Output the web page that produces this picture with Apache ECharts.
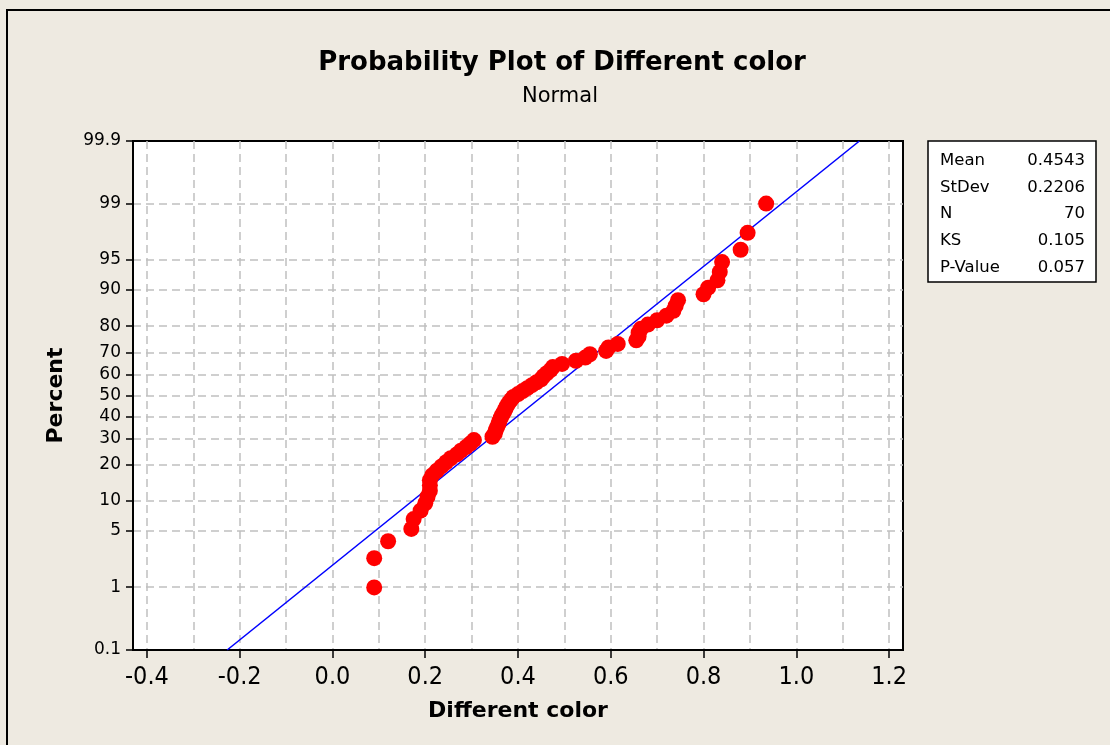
<!DOCTYPE html>
<html>
<head>
<meta charset="utf-8">
<title>Probability Plot of Different color</title>
<script src="https://cdn.jsdelivr.net/npm/echarts@6/dist/echarts.min.js"></script>
<style>
  html, body { margin: 0; padding: 0; background: #EEEAE1; }
  #main { width: 1110px; height: 745px; }
</style>
</head>
<body>
<div id="main"></div>
<script>
// sample values (sorted)
const colorDiff = [
  0.09, 0.09, 0.12, 0.17, 0.175, 0.19, 0.20, 0.205, 0.21, 0.21,
  0.21, 0.215, 0.225, 0.235, 0.245, 0.255, 0.268, 0.277, 0.288, 0.297,
  0.305, 0.345, 0.35, 0.352, 0.355, 0.358, 0.36, 0.363, 0.366, 0.37,
  0.373, 0.376, 0.38, 0.385, 0.39, 0.40, 0.41, 0.42, 0.43, 0.44,
  0.45, 0.455, 0.462, 0.47, 0.475, 0.495, 0.525, 0.545, 0.555, 0.59,
  0.595, 0.615, 0.655, 0.66, 0.66, 0.665, 0.68, 0.70, 0.72, 0.735,
  0.74, 0.745, 0.80, 0.81, 0.83, 0.835, 0.84, 0.88, 0.895, 0.935
];
// percent at which each point is drawn
const percentRank = [
  0.99, 2.41, 3.84, 5.26, 6.68, 8.10, 9.52, 10.94, 12.36, 13.78,
  15.20, 16.62, 18.04, 19.46, 20.88, 22.30, 23.72, 25.14, 26.56, 27.98,
  29.40, 30.82, 32.24, 33.66, 35.09, 36.51, 37.93, 39.35, 40.77, 42.19,
  43.61, 45.03, 46.45, 47.87, 49.29, 50.71, 52.13, 53.55, 54.97, 56.39,
  57.81, 59.23, 60.65, 62.07, 63.49, 64.91, 66.34, 67.76, 69.18, 70.60,
  72.02, 73.44, 74.86, 76.28, 77.70, 79.12, 80.54, 81.96, 83.38, 84.80,
  86.22, 87.64, 89.06, 90.48, 91.90, 93.32, 94.74, 96.16, 97.59, 99.01
];
// fitted normal line end points
const fitX = [-0.227, 1.136];
const fitPercent = [0.1, 99.9];

const xLabelValues = [-0.4, -0.2, 0, 0.2, 0.4, 0.6, 0.8, 1.0, 1.2];
const xGridValues = [-0.4, -0.3, -0.2, -0.1, 0, 0.1, 0.2, 0.3, 0.4, 0.5, 0.6, 0.7, 0.8, 0.9, 1.0, 1.1, 1.2];
const yTickPercents = [0.1, 1, 5, 10, 20, 30, 40, 50, 60, 70, 80, 90, 95, 99, 99.9];

const statNames = ['Mean', 'StDev', 'N', 'KS', 'P-Value'];
const statValues = ['0.4543', '0.2206', '70', '0.105', '0.057'];

// inverse normal cdf (Acklam) for the probability scale
function probit(p) {
  const a = [-3.969683028665376e+01, 2.209460984245205e+02, -2.759285104469687e+02, 1.383577518672690e+02, -3.066479806614716e+01, 2.506628277459239e+00];
  const b = [-5.447609879822406e+01, 1.615858368580409e+02, -1.556989798598866e+02, 6.680131188771972e+01, -1.328068155288572e+01];
  const c = [-7.784894002430293e-03, -3.223964580411365e-01, -2.400758277161838e+00, -2.549732539343734e+00, 4.374664141464968e+00, 2.938163982698783e+00];
  const d = [7.784695709041462e-03, 3.224671290700398e-01, 2.445134137142996e+00, 3.754408661907416e+00];
  const pl = 0.02425;
  let q, r;
  if (p < pl) {
    q = Math.sqrt(-2 * Math.log(p));
    return (((((c[0]*q+c[1])*q+c[2])*q+c[3])*q+c[4])*q+c[5]) / ((((d[0]*q+d[1])*q+d[2])*q+d[3])*q+1);
  }
  if (p > 1 - pl) {
    q = Math.sqrt(-2 * Math.log(1 - p));
    return -(((((c[0]*q+c[1])*q+c[2])*q+c[3])*q+c[4])*q+c[5]) / ((((d[0]*q+d[1])*q+d[2])*q+d[3])*q+1);
  }
  q = p - 0.5; r = q * q;
  return (((((a[0]*r+a[1])*r+a[2])*r+a[3])*r+a[4])*r+a[5])*q / (((((b[0]*r+b[1])*r+b[2])*r+b[3])*r+b[4])*r+1);
}
const toZ = pct => probit(pct / 100);

const yTickZ = yTickPercents.map(toZ);
const yGridZ = yTickZ.slice(1, -1);
const zMin = yTickZ[0];
const zMax = yTickZ[yTickZ.length - 1];

const FONT = "'DejaVu Sans', Verdana, sans-serif";
const FONT_C = "'DejaVu Sans Condensed', 'DejaVu Sans', sans-serif";

const pointData = colorDiff.map((v, i) => [v, toZ(percentRank[i])]);
const fitData = fitX.map((v, i) => [v, toZ(fitPercent[i])]);

const gridDash = { color: '#c0c0c0', type: [8, 5], width: 1.5 };

const statGraphics = [];
statNames.forEach((name, i) => {
  const y = 160.5 + i * 26.8;
  statGraphics.push({
    type: 'text', x: 940, y: y,
    style: { text: name, font: '16.5px ' + FONT, fill: '#000', verticalAlign: 'middle' }
  });
  statGraphics.push({
    type: 'text', x: 1085, y: y,
    style: { text: statValues[i], font: '16.5px ' + FONT, fill: '#000', align: 'right', verticalAlign: 'middle' }
  });
});

const chart = echarts.init(document.getElementById('main'));
chart.setOption({
  animation: false,
  backgroundColor: '#EEEAE1',
  grid: {
    left: 133, top: 141, width: 770, height: 509,
    show: true, backgroundColor: '#fff', borderColor: '#000', borderWidth: 2
  },
  xAxis: [
    {
      type: 'value', min: -0.43, max: 1.23,
      name: 'Different color', nameLocation: 'middle', nameGap: 50,
      nameTextStyle: { fontFamily: FONT, fontSize: 22, fontWeight: 'bold', color: '#000' },
      axisLine: { onZero: false, lineStyle: { color: '#000', width: 2 } },
      axisTick: { customValues: xLabelValues, length: 8, lineStyle: { color: '#000', width: 1.5 } },
      axisLabel: {
        customValues: xLabelValues, margin: 15,
        formatter: v => v.toFixed(1),
        fontFamily: FONT_C, fontSize: 25, color: '#000'
      },
      splitLine: { show: false }
    },
    {
      type: 'value', min: -0.43, max: 1.23, position: 'bottom',
      axisLine: { show: false, onZero: false },
      axisTick: { show: false, customValues: xGridValues },
      axisLabel: { show: false },
      splitLine: { show: true, lineStyle: gridDash }
    }
  ],
  yAxis: [
    {
      type: 'value', min: zMin, max: zMax,
      name: 'Percent', nameLocation: 'middle', nameGap: 66,
      nameTextStyle: { fontFamily: FONT, fontSize: 22, fontWeight: 'bold', color: '#000' },
      axisLine: { onZero: false, lineStyle: { color: '#000', width: 2 } },
      axisTick: { customValues: yTickZ, length: 7, lineStyle: { color: '#000', width: 1.5 } },
      axisLabel: {
        customValues: yTickZ, margin: 12,
        formatter: v => {
          let best = 0;
          yTickZ.forEach((t, i) => { if (Math.abs(t - v) < Math.abs(yTickZ[best] - v)) best = i; });
          return String(yTickPercents[best]);
        },
        fontFamily: FONT, fontSize: 17, color: '#000'
      },
      splitLine: { show: false }
    },
    {
      type: 'value', min: zMin, max: zMax, position: 'left',
      axisLine: { show: false, onZero: false },
      axisTick: { show: false, customValues: yGridZ },
      axisLabel: { show: false },
      splitLine: { show: true, lineStyle: gridDash }
    }
  ],
  series: [
    {
      type: 'line', data: fitData, xAxisIndex: 0, yAxisIndex: 0,
      showSymbol: false, symbol: 'none', z: 2,
      lineStyle: { color: '#0000FF', width: 1.6 }
    },
    {
      type: 'scatter', data: pointData, xAxisIndex: 0, yAxisIndex: 0,
      symbolSize: 16, z: 3,
      itemStyle: { color: '#FF0000', opacity: 1 }
    }
  ],
  graphic: [
    {
      type: 'rect', z: -10, silent: true,
      shape: { x: 7, y: 10, width: 1200, height: 800 },
      style: { fill: 'none', stroke: '#000', lineWidth: 2 }
    },
    {
      type: 'text', x: 562, y: 63,
      style: { text: 'Probability Plot of Different color', font: 'bold 26px ' + FONT, fill: '#000', align: 'center', verticalAlign: 'middle' }
    },
    {
      type: 'text', x: 560, y: 97,
      style: { text: 'Normal', font: '21px ' + FONT, fill: '#000', align: 'center', verticalAlign: 'middle' }
    },
    {
      type: 'rect',
      shape: { x: 928, y: 141, width: 168, height: 141 },
      style: { fill: '#fff', stroke: '#000', lineWidth: 1.5 }
    }
  ].concat(statGraphics)
});
</script>
</body>
</html>
